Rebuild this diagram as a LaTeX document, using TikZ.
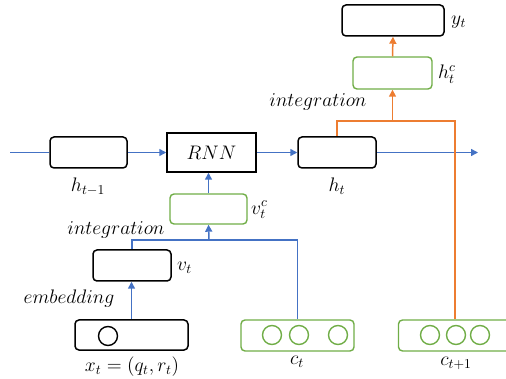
\documentclass[tikz,border=0pt]{standalone}
\usepackage{graphicx}
\usetikzlibrary{arrows.meta}
\definecolor{cblue}{HTML}{4472C4}
\definecolor{corange}{HTML}{ED7D31}
\definecolor{cgreen}{HTML}{70AD47}
\newcommand{\mylbl}[1]{\scalebox{1.36}{$#1$}}
\begin{document}
\begin{tikzpicture}[x=1pt,y=-1pt,
  font=\fontsize{14.4}{17}\selectfont,
  blk/.style={draw=black,line width=1.5pt,rounded corners=4pt,minimum width=#1,inner sep=0pt},
  grn/.style={draw=cgreen,line width=1.4pt,rounded corners=4pt,minimum width=#1,inner sep=0pt},
  bl/.style={draw=cblue,line width=1.5pt},
  og/.style={draw=corange,line width=1.5pt},
  arr/.style={-{Triangle[length=7pt,width=7pt]}},
  lab/.style={inner sep=0pt}]
\useasboundingbox (0,0) rectangle (506,379);
\begin{scope}
\clip (0,0) rectangle (506,379);
% boxes
\node[blk=77pt,minimum height=31pt] (hprev) at (88.5,152.5) {};
\node[draw=black,line width=1.5pt,minimum width=89pt,minimum height=39pt,inner sep=0pt] (rnn) at (211.5,152.5) {\mylbl{RNN}};
\node[blk=78pt,minimum height=31pt] (ht) at (337,152.5) {};
\node[blk=102pt,minimum height=31pt] (yt) at (393,20.5) {};
\node[grn=79pt,minimum height=32pt] (htc) at (392.5,73) {};
\node[grn=77pt,minimum height=30pt] (vtc) at (208.5,209) {};
\node[blk=78pt,minimum height=31pt] (vt) at (132,265.5) {};
\node[blk=113pt,minimum height=30pt] (xt) at (131.5,335) {};
\node[grn=113pt,minimum height=31pt] (ct) at (297.5,335.5) {};
\node[grn=113pt,minimum height=31pt] (ct1) at (455,335.5) {};
% circles
\node[draw=black,line width=1.4pt,circle,minimum size=19pt,inner sep=0pt] (xc1) at (108,336) {};
\foreach \i/\x in {1/272,2/299,3/338}{
  \node[draw=cgreen,line width=1.4pt,circle,minimum size=19pt,inner sep=0pt] (cc\i) at (\x,335) {};}
\foreach \i/\x in {1/430,2/456,3/480}{
  \node[draw=cgreen,line width=1.4pt,circle,minimum size=19pt,inner sep=0pt] (cd\i) at (\x,335) {};}
\end{scope}
% coordinates
\coordinate (lin) at (10,152.5);
\coordinate (rout) at (478,152.5);
\coordinate (bj) at (209,240);
\coordinate (oj) at (392.5,121);
% blue connectors
\draw[bl] (lin) -- (hprev.west);
\draw[bl,arr] (hprev.east) -- (rnn.west);
\draw[bl,arr] (rnn.east) -- (ht.west);
\draw[bl,arr] (ht.east) -- (rout);
\draw[bl,arr] (vtc.north) -- (vtc.north |- rnn.south);
\draw[bl] (vt.north) |- (bj) -| (ct.north);
\draw[bl,arr] (bj) -- (vtc.south);
\draw[bl,arr] (xt.north) -- (xt.north |- vt.south);
% orange connectors
\draw[og] (ht.north) |- (oj) -| (ct1.north);
\draw[og,arr] (oj) -- (htc.south);
\draw[og,arr] (htc.north) -- (yt.south);
% labels
\node[lab] (lhprev) at (88,187) {\mylbl{h_{t-1}}};
\node[lab] (lht) at (337,186) {\mylbl{h_t}};
\node[lab,anchor=west] (lyt) at (451,22) {\mylbl{y_t}};
\node[lab,anchor=west] (lhtc) at (438,74) {\mylbl{h_t^c}};
\node[lab,anchor=west] (lvtc) at (251,210) {\mylbl{v_t^c}};
\node[lab,anchor=west] (lvt) at (177,268) {\mylbl{v_t}};
\node[lab] (lint1) at (318,102) {\mylbl{integration}};
\node[lab] (lint2) at (116,230) {\mylbl{integration}};
\node[lab] (lemb) at (69,299) {\mylbl{embedding}};
\node[lab] (lxt) at (132,367) {\mylbl{x_t=(q_t,r_t)}};
\node[lab] (lct) at (297,362) {\mylbl{c_t}};
\node[lab] (lct1) at (456,363) {\mylbl{c_{t+1}}};
\end{tikzpicture}
\end{document}
